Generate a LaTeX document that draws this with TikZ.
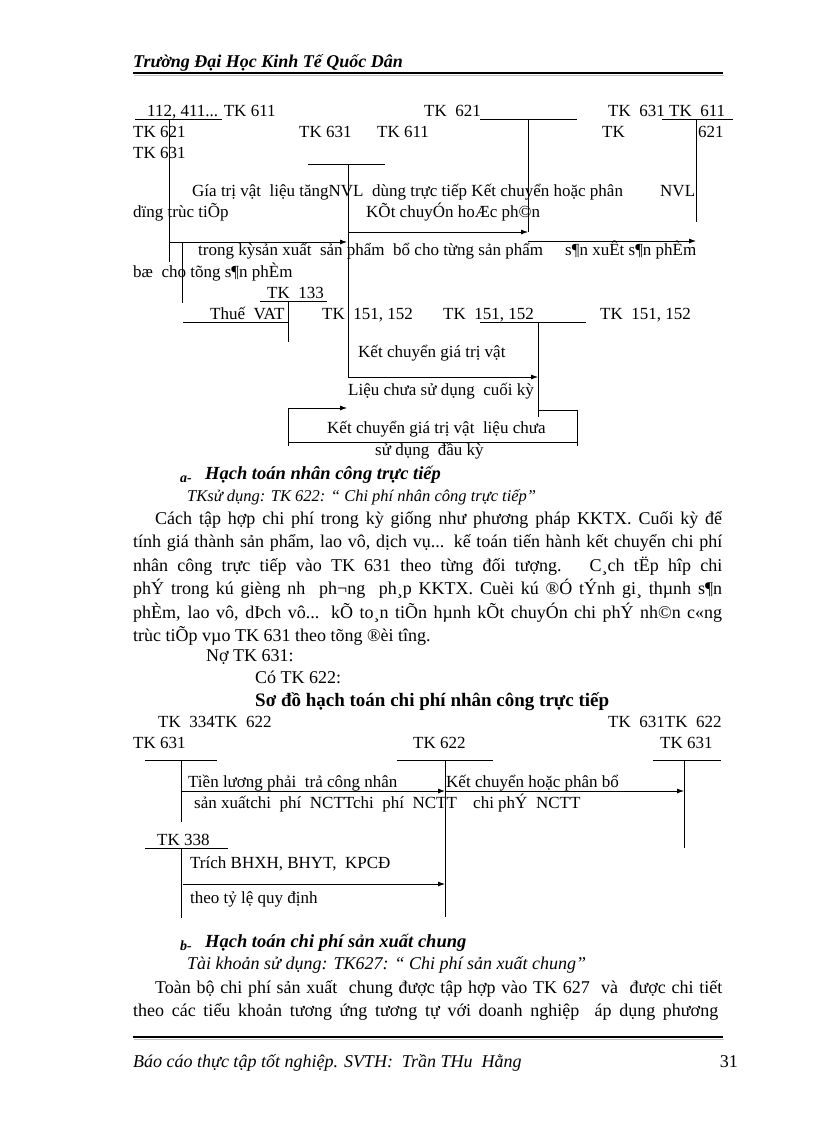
\documentclass[tikz,border=0pt]{standalone}
\usepackage{fontspec}
\setmainfont{Liberation Serif}
\usetikzlibrary{arrows.meta}

\newcommand\dgfont{\fontsize{17}{20}\selectfont}
\newcommand\bodyfont{\fontsize{18}{22}\selectfont}
\newcommand\jline[2]{\makebox[#1][s]{#2}}

\begin{document}
\begin{tikzpicture}[x=1pt, y=-1pt,
    lbl/.style={anchor=base west, inner sep=0pt, font=\dgfont},
    txt/.style={anchor=base west, inner sep=0pt, font=\bodyfont},
    acct/.style={line width=0.8pt},
    flow/.style={-{Latex[length=7pt,width=5pt]}, line width=0.8pt},
    rule/.style={line width=2.5pt}
]
\useasboundingbox[fill=white] (0,0) rectangle (816,1123);

% header and footer
\node[txt, font=\bodyfont\bfseries\itshape] at (133,68) (hdr) {Trường Đại Học Kinh Tế Quốc Dân};
\draw[gray!50, line width=1.5pt] (134,75.5) -- (724,75.5);
\draw[rule] (133,73) -- (723,73);
\draw[gray!50, line width=1.5pt] (134,1039.5) -- (724,1039.5);
\draw[rule] (133,1037) -- (723,1037);
\node[txt, font=\bodyfont\itshape] at (133,1067) (ftr) {Báo cáo thực tập tốt nghiệp. SVTH:\ \ Trần THu\ \ Hằng};
\node[txt, anchor=base east] at (738,1067) (page) {31};

% diagram 1: account labels
\node[lbl] at (147,117) (l611) {112, 411... TK 611};
\node[lbl] at (133,138) (l621a) {TK 621};
\node[lbl] at (133,159) (l631a) {TK 631};
\node[lbl] at (299,138) (l631b) {TK 631};
\node[lbl] at (377,138) (l611b) {TK 611};
\node[lbl] at (424,117) (l621b) {TK\ \ 621};
\node[lbl] at (608,117) (l631c) {TK\ \ 631 TK\ \ 611};
\node[lbl] at (602,138) (ltk) {TK};
\node[lbl] at (698,138) (l621c) {621};
\node[lbl] at (267,298) (l133) {TK\ \ 133};
\node[lbl] at (210,319) (lvat) {Thuế\ \ VAT};
\node[lbl] at (322,319) (l151a) {TK\ \ 151, 152};
\node[lbl] at (443,319) (l151b) {TK\ \ 151, 152};
\node[lbl] at (600,319) (l151c) {TK\ \ 151, 152};

% diagram 1: flow texts
\node[lbl] at (192,197) (f1) {Gía trị vật\ \ liệu tăngNVL\ \ dùng trực tiếp Kết chuyển hoặc phân};
\node[lbl] at (660,197) (f2) {NVL};
\node[lbl] at (133,218) (f3) {dïng trùc tiÕp};
\node[lbl] at (366,218) (f4) {KÕt chuyÓn hoÆc ph©n};
\node[lbl] at (198,255) (f5) {trong kỳsản xuất\ \ sản phẩm\ \ bổ cho từng sản phẩm};
\node[lbl] at (565,255) (f6) {s¶n xuÊt s¶n phÈm};
\node[lbl] at (133,277) (f7) {bæ\ \ cho tõng s¶n phÈm};
\node[lbl] at (358,357) (f8) {Kết chuyển giá trị vật};
\node[lbl] at (348,395) (f9) {Liệu chưa sử dụng\ \ cuối kỳ};
\node[lbl] at (327,433) (f10) {Kết chuyển giá trị vật\ \ liệu chưa};
\node[lbl] at (375,455) (f11) {sử dụng\ \ đầu kỳ};

% diagram 1: T accounts
\coordinate (t611) at (169,119);
\coordinate (t631) at (348,164);
\coordinate (t621) at (528,119);
\coordinate (t631r) at (696,119);
\coordinate (t133) at (288,301);
\coordinate (t151) at (538,322);
\draw[acct] (135,119) -- (222,119);
\draw[acct] (t611) -- (169,262);
\draw[acct] (182,242) -- (182,303);
\draw[acct] (308,164) -- (385,164);
\draw[acct] (t631) -- (348,377);
\draw[acct] (480,119) -- (577,119);
\draw[acct] (t621) -- (528,232);
\draw[acct] (662,119) -- (733,119);
\draw[acct] (t631r) -- (696,222);
\draw[acct] (260,301) -- (327,301);
\draw[acct] (t133) -- (288,342);
\draw[acct] (183,322) -- (288,322);
\draw[acct] (480,322) -- (586,322);
\draw[acct] (t151) -- (538,417);

% diagram 1: flows
\coordinate (u611) at (169,242);
\coordinate (u631) at (347,242);
\coordinate (v631) at (348,232);
\coordinate (v621) at (528,232);
\coordinate (w621) at (528,241);
\coordinate (w631) at (696,241);
\coordinate (x631) at (348,377);
\coordinate (x151) at (538,377);
\coordinate (y151) at (538,410);
\coordinate (y631) at (347,408);
\draw[flow] (u611) -- (u631);
\draw[flow] (v631) -- (v621);
\draw[flow] (w621) -- (w631);
\draw[flow] (x631) -- (x151);
\draw[acct] (y151) -- (577,410) -- (577,446);
\draw[acct] (577,442) -- (288,442);
\draw[flow] (288,446) -- (288,408) -- (y631);

% section a
\node[txt, font=\fontsize{14}{16}\selectfont\bfseries\itshape] at (180,482) (sa) {a-};
\node[txt, font=\fontsize{18.5}{22}\selectfont\bfseries\itshape] at (205,479) (ha) {Hạch toán nhân công trực tiếp};
\node[txt, font=\fontsize{16.5}{20}\selectfont\itshape] at (187,501) (ia) {TKsử dụng: TK 622: “ Chi phí nhân công trực tiếp”};
\node[txt] at (155,524) (p1) {\jline{567pt}{Cách tập hợp chi phí trong kỳ giống như phương pháp KKTX. Cuối kỳ để}};
\node[txt] at (133,547) (p2) {\jline{589pt}{tính giá thành sản phẩm, lao vô, dịch vụ... kế toán tiến hành kết chuyển chi phí}};
\node[txt] at (133,571) (p3) {\jline{589pt}{nhân công trực tiếp vào TK 631 theo từng đối tượng.\hspace{28pt}C¸ch tËp hîp chi}};
\node[txt] at (133,594) (p4) {\jline{589pt}{phÝ trong kú gièng nh\ \ ph¬ng\ \ ph¸p KKTX. Cuèi kú ®Ó tÝnh gi¸ thµnh s¶n}};
\node[txt] at (133,618) (p5) {\jline{589pt}{phÈm, lao vô, dÞch vô... kÕ to¸n tiÕn hµnh kÕt chuyÓn chi phÝ nh©n c«ng}};
\node[txt] at (133,641) (p6) {trùc tiÕp vµo TK 631 theo tõng ®èi tîng.};
\node[txt] at (206,661) (no) {Nợ TK 631:};
\node[txt] at (255,683) (co) {Có TK 622:};
\node[txt, font=\fontsize{19}{22}\selectfont\bfseries] at (255,706) (title) {Sơ đồ hạch toán chi phí nhân công trực tiếp};

% diagram 2: labels
\node[lbl] at (158,727) (m334) {TK\ \ 334TK\ \ 622};
\node[lbl] at (133,748) (m631) {TK 631};
\node[lbl] at (413,748) (m622) {TK 622};
\node[lbl] at (608,727) (m631b) {TK\ \ 631TK\ \ 622};
\node[lbl] at (660,748) (m631c) {TK 631};
\node[lbl] at (157,845) (m338) {TK 338};
\node[lbl] at (188,787) (g1) {Tiền lương phải\ \ trả công nhân};
\node[lbl] at (194,808) (g2) {sản xuấtchi\ \ phí\ \ NCTTchi\ \ phí\ \ NCTT};
\node[lbl] at (446,787) (g3) {Kết chuyển hoặc phân bổ};
\node[lbl] at (473,808) (g4) {chi phÝ\ \ NCTT};
\node[lbl] at (190,868) (g5) {Trích BHXH, BHYT,\ \ KPCĐ};
\node[lbl] at (190,903) (g6) {theo tỷ lệ quy định};

% diagram 2: T accounts
\coordinate (s334) at (181,760);
\coordinate (s338) at (181,848);
\coordinate (s622) at (445,760);
\coordinate (s631) at (684,760);
\draw[acct] (145,760) -- (217,760);
\draw[acct] (s334) -- (181,822);
\draw[acct] (145,848) -- (228,848);
\draw[acct] (s338) -- (181,918);
\draw[acct] (397,760) -- (493,760);
\draw[acct] (s622) -- (445,917);
\draw[acct] (653,760) -- (721,760);
\draw[acct] (s631) -- (684,848);

% diagram 2: flows
\coordinate (k334) at (181,791);
\coordinate (k622) at (445,791);
\coordinate (k631) at (684,791);
\coordinate (k338) at (183,884);
\coordinate (k622b) at (445,884);
\draw[flow] (k334) -- (k622);
\draw[flow] (k622) -- (k631);
\draw[flow] (k338) -- (k622b);

% section b
\node[txt, font=\fontsize{14}{16}\selectfont\bfseries\itshape] at (180,950) (sb) {b-};
\node[txt, font=\fontsize{18.5}{22}\selectfont\bfseries\itshape] at (205,947) (hb) {Hạch toán chi phí sản xuất chung};
\node[txt, font=\fontsize{18}{20}\selectfont\itshape] at (187,969) (ib) {Tài khoản sử dụng: TK627: “ Chi phí sản xuất chung”};
\node[txt] at (155,993) (q1) {\jline{567pt}{Toàn bộ chi phí sản xuất\ \ chung được tập hợp vào TK 627\ \ và\ \ được chi tiết}};
\node[txt] at (133,1016) (q2) {\jline{585pt}{theo các tiểu khoản tương ứng tương tự với doanh nghiệp\ \ áp dụng phương}};
\end{tikzpicture}
\end{document}
